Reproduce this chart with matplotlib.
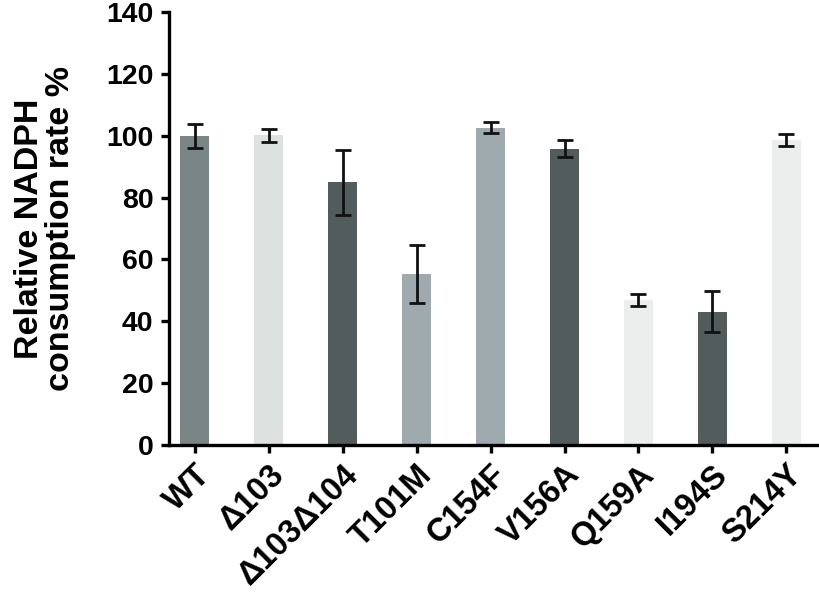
import matplotlib.pyplot as plt

plt.rcParams['font.family'] = ['Liberation Sans', 'DejaVu Sans']
plt.rcParams['font.weight'] = 'bold'

labels = ['WT', 'Δ103', 'Δ103Δ104', 'T101M', 'C154F', 'V156A', 'Q159A', 'I194S', 'S214Y']
values = [100, 100.1, 85, 55.2, 102.6, 95.8, 46.9, 43.1, 98.5]
errors = [3.9, 2.2, 10.5, 9.3, 1.9, 2.7, 1.8, 6.7, 2.0]
colors = ['#7a8585', '#dde1e0', '#525c5c', '#9eaaae', '#9eaaae',
          '#525c5c', '#eceeee', '#525c5c', '#eceeee']

fig = plt.figure(figsize=(8.19, 5.95), dpi=100)
ax = fig.add_axes([0.206, 0.252, 0.794, 0.728])

x = range(len(labels))
ax.bar(x, values, width=0.4, color=colors, yerr=errors,
       error_kw=dict(ecolor='#111111', elinewidth=2, capsize=5.5, capthick=2))

ax.set_ylim(0, 140)
ax.set_xlim(-0.35, 8.44)
ax.set_yticks(range(0, 141, 20))
ax.set_xticks(list(x))
ax.set_xticklabels(labels, rotation=45, ha='right', rotation_mode='anchor',
                   fontsize=23.5)

for s in ['top', 'right']:
    ax.spines[s].set_visible(False)
for s in ['left', 'bottom']:
    ax.spines[s].set_linewidth(2.4)
ax.tick_params(width=2.4, length=6, pad=5)
ax.tick_params(axis='y', labelsize=20.5)
ax.tick_params(axis='x', pad=4)

ax.set_ylabel('Relative NADPH\nconsumption rate %', fontsize=24.5,
              fontweight='bold', linespacing=1.0)
ax.yaxis.set_label_coords(-0.142, 0.5)

fig.savefig('out.png', dpi=100)
